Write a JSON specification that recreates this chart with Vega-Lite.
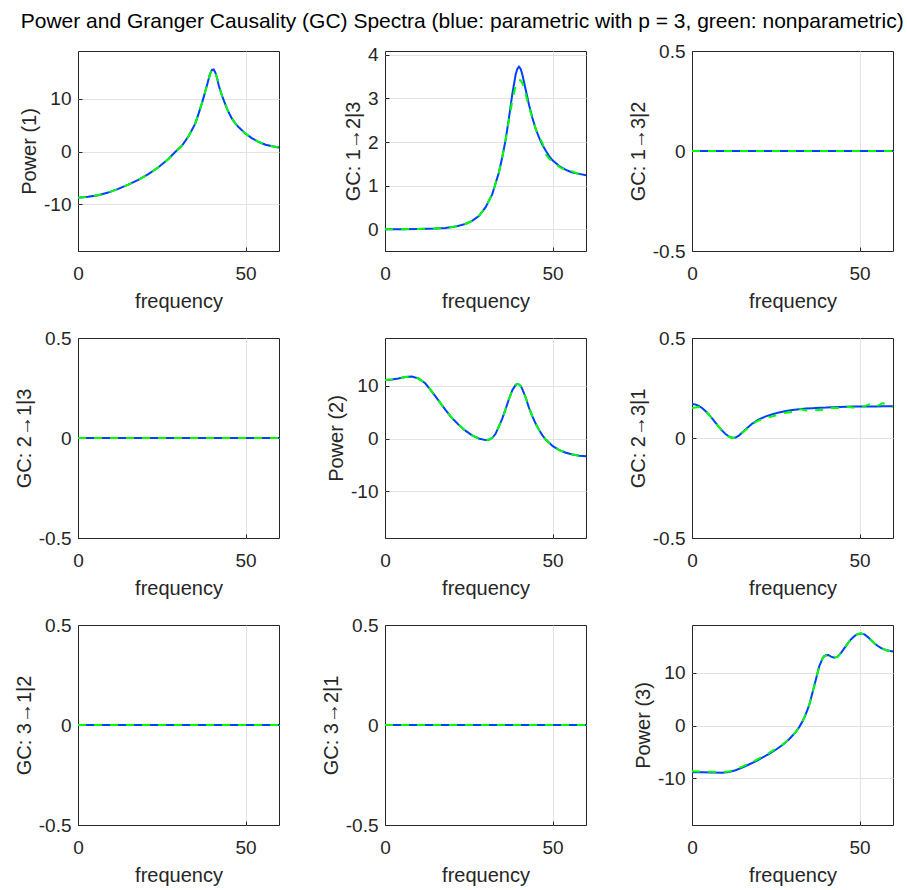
{
  "$schema": "https://vega.github.io/schema/vega-lite/v6.json",
  "padding": {"left": 13, "top": 10, "right": 0, "bottom": 0},
  "bounds": "flush",
  "columns": 3,
  "spacing": {"row": 87, "column": 106},
  "title": {"text": "Power and Granger Causality (GC) Spectra (blue: parametric with p = 3, green: nonparametric)", "font": "Liberation Sans", "fontSize": 21, "fontWeight": "normal", "color": "#000000", "anchor": "start", "dx": 7, "offset": 10},
  "config": {
    "font": "Liberation Sans",
    "view": {"stroke": "#262626", "strokeWidth": 1},
    "axis": {"labelFont": "Liberation Sans", "labelFontSize": 19, "labelColor": "#262626", "titleFont": "Liberation Sans", "titleFontSize": 20, "titleFontWeight": "normal", "titleColor": "#262626", "gridColor": "#e3e3e3", "gridWidth": 1, "ticks": true, "tickSize": -4, "tickColor": "#262626", "tickWidth": 1, "domain": false, "labelPadding": 11, "titlePadding": 4, "labelFlush": false, "labelExpr": "'' + datum.value"},
    "axisX": {"labelPadding": 17, "titlePadding": 8}
  },
  "datasets": {
    "d": [
      {"p": 1, "f": 0, "par": -8.8, "non": -8.8},
      {"p": 1, "f": 3, "par": -8.6, "non": -8.6},
      {"p": 1, "f": 6, "par": -8.3, "non": -8.3},
      {"p": 1, "f": 9, "par": -7.8, "non": -7.8},
      {"p": 1, "f": 12, "par": -7.1, "non": -7.1},
      {"p": 1, "f": 15, "par": -6.3, "non": -6.3},
      {"p": 1, "f": 18, "par": -5.4, "non": -5.4},
      {"p": 1, "f": 21, "par": -4.3, "non": -4.3},
      {"p": 1, "f": 24, "par": -3.0, "non": -3.0},
      {"p": 1, "f": 27, "par": -1.4, "non": -1.4},
      {"p": 1, "f": 29, "par": -0.1, "non": -0.1},
      {"p": 1, "f": 31, "par": 1.1, "non": 1.1},
      {"p": 1, "f": 33, "par": 2.9, "non": 2.9},
      {"p": 1, "f": 35, "par": 5.3, "non": 5.3},
      {"p": 1, "f": 36, "par": 7.2, "non": 7.2},
      {"p": 1, "f": 37, "par": 9.2, "non": 9.2},
      {"p": 1, "f": 38, "par": 11.4, "non": 11.4},
      {"p": 1, "f": 39, "par": 13.8, "non": 13.8},
      {"p": 1, "f": 39.5, "par": 14.9, "non": 14.9},
      {"p": 1, "f": 40, "par": 15.5, "non": 15.5},
      {"p": 1, "f": 40.5, "par": 15.6, "non": 15.6},
      {"p": 1, "f": 41, "par": 15.0, "non": 15.0},
      {"p": 1, "f": 41.5, "par": 14.0, "non": 14.0},
      {"p": 1, "f": 42, "par": 12.6, "non": 12.6},
      {"p": 1, "f": 43, "par": 10.6, "non": 10.6},
      {"p": 1, "f": 44, "par": 8.9, "non": 8.9},
      {"p": 1, "f": 45, "par": 7.4, "non": 7.4},
      {"p": 1, "f": 46, "par": 6.2, "non": 6.2},
      {"p": 1, "f": 47, "par": 5.3, "non": 5.3},
      {"p": 1, "f": 48, "par": 4.6, "non": 4.6},
      {"p": 1, "f": 50, "par": 3.4, "non": 3.4},
      {"p": 1, "f": 52, "par": 2.5, "non": 2.5},
      {"p": 1, "f": 54, "par": 1.8, "non": 1.8},
      {"p": 1, "f": 56, "par": 1.3, "non": 1.3},
      {"p": 1, "f": 58, "par": 1.0, "non": 1.0},
      {"p": 1, "f": 60, "par": 0.75, "non": 0.75},

      {"p": 2, "f": 0, "par": 0, "non": 0},
      {"p": 2, "f": 5, "par": 0, "non": 0},
      {"p": 2, "f": 10, "par": 0.005, "non": 0.005},
      {"p": 2, "f": 15, "par": 0.015, "non": 0.015},
      {"p": 2, "f": 18, "par": 0.03, "non": 0.03},
      {"p": 2, "f": 21, "par": 0.06, "non": 0.06},
      {"p": 2, "f": 24, "par": 0.12, "non": 0.12},
      {"p": 2, "f": 26, "par": 0.19, "non": 0.19},
      {"p": 2, "f": 28, "par": 0.3, "non": 0.3},
      {"p": 2, "f": 30, "par": 0.5, "non": 0.5},
      {"p": 2, "f": 32, "par": 0.8, "non": 0.8},
      {"p": 2, "f": 34, "par": 1.3, "non": 1.3},
      {"p": 2, "f": 35, "par": 1.65, "non": 1.65},
      {"p": 2, "f": 36, "par": 2.05, "non": 2.05},
      {"p": 2, "f": 37, "par": 2.55, "non": 2.5},
      {"p": 2, "f": 38, "par": 3.1, "non": 2.95},
      {"p": 2, "f": 39, "par": 3.55, "non": 3.3},
      {"p": 2, "f": 39.5, "par": 3.68, "non": 3.38},
      {"p": 2, "f": 40, "par": 3.73, "non": 3.42},
      {"p": 2, "f": 40.5, "par": 3.68, "non": 3.42},
      {"p": 2, "f": 41, "par": 3.55, "non": 3.35},
      {"p": 2, "f": 42, "par": 3.2, "non": 3.1},
      {"p": 2, "f": 43, "par": 2.85, "non": 2.8},
      {"p": 2, "f": 44, "par": 2.55, "non": 2.55},
      {"p": 2, "f": 45, "par": 2.3, "non": 2.3},
      {"p": 2, "f": 46, "par": 2.1, "non": 2.12},
      {"p": 2, "f": 47, "par": 1.93, "non": 1.98},
      {"p": 2, "f": 48, "par": 1.8, "non": 1.72},
      {"p": 2, "f": 49, "par": 1.68, "non": 1.62},
      {"p": 2, "f": 50, "par": 1.58, "non": 1.55},
      {"p": 2, "f": 52, "par": 1.45, "non": 1.43},
      {"p": 2, "f": 54, "par": 1.36, "non": 1.35},
      {"p": 2, "f": 55, "par": 1.33, "non": 1.37},
      {"p": 2, "f": 56, "par": 1.3, "non": 1.32},
      {"p": 2, "f": 58, "par": 1.27, "non": 1.26},
      {"p": 2, "f": 60, "par": 1.24, "non": 1.24},

      {"p": 3, "f": 0, "par": 0, "non": 0},
      {"p": 3, "f": 30, "par": 0, "non": 0},
      {"p": 3, "f": 60, "par": 0, "non": 0},
      {"p": 4, "f": 0, "par": 0, "non": 0},
      {"p": 4, "f": 30, "par": 0, "non": 0},
      {"p": 4, "f": 60, "par": 0, "non": 0},

      {"p": 5, "f": 0, "par": 11.1, "non": 11.1},
      {"p": 5, "f": 2, "par": 11.2, "non": 11.2},
      {"p": 5, "f": 4, "par": 11.4, "non": 11.4},
      {"p": 5, "f": 6, "par": 11.7, "non": 11.7},
      {"p": 5, "f": 8, "par": 11.8, "non": 11.8},
      {"p": 5, "f": 10, "par": 11.4, "non": 11.4},
      {"p": 5, "f": 12, "par": 10.5, "non": 10.5},
      {"p": 5, "f": 14, "par": 8.9, "non": 8.9},
      {"p": 5, "f": 16, "par": 7.2, "non": 7.2},
      {"p": 5, "f": 18, "par": 5.5, "non": 5.5},
      {"p": 5, "f": 20, "par": 3.9, "non": 3.9},
      {"p": 5, "f": 22, "par": 2.6, "non": 2.6},
      {"p": 5, "f": 24, "par": 1.5, "non": 1.5},
      {"p": 5, "f": 26, "par": 0.6, "non": 0.6},
      {"p": 5, "f": 28, "par": 0.0, "non": 0.0},
      {"p": 5, "f": 30, "par": -0.3, "non": -0.3},
      {"p": 5, "f": 31, "par": -0.25, "non": -0.25},
      {"p": 5, "f": 32, "par": 0.1, "non": 0.1},
      {"p": 5, "f": 33, "par": 0.9, "non": 0.9},
      {"p": 5, "f": 34, "par": 2.3, "non": 2.3},
      {"p": 5, "f": 35, "par": 3.8, "non": 3.8},
      {"p": 5, "f": 36, "par": 5.6, "non": 5.6},
      {"p": 5, "f": 37, "par": 7.5, "non": 7.5},
      {"p": 5, "f": 38, "par": 9.2, "non": 9.2},
      {"p": 5, "f": 39, "par": 10.2, "non": 10.2},
      {"p": 5, "f": 39.7, "par": 10.4, "non": 10.4},
      {"p": 5, "f": 40.5, "par": 10.0, "non": 10.0},
      {"p": 5, "f": 41, "par": 9.4, "non": 9.4},
      {"p": 5, "f": 42, "par": 7.8, "non": 7.8},
      {"p": 5, "f": 43, "par": 5.8, "non": 5.8},
      {"p": 5, "f": 44, "par": 4.2, "non": 4.2},
      {"p": 5, "f": 45, "par": 2.8, "non": 2.8},
      {"p": 5, "f": 46, "par": 1.6, "non": 1.6},
      {"p": 5, "f": 47, "par": 0.6, "non": 0.6},
      {"p": 5, "f": 48, "par": -0.2, "non": -0.2},
      {"p": 5, "f": 50, "par": -1.4, "non": -1.4},
      {"p": 5, "f": 52, "par": -2.2, "non": -2.2},
      {"p": 5, "f": 54, "par": -2.7, "non": -2.7},
      {"p": 5, "f": 56, "par": -3.05, "non": -3.05},
      {"p": 5, "f": 58, "par": -3.25, "non": -3.25},
      {"p": 5, "f": 60, "par": -3.35, "non": -3.35},

      {"p": 6, "f": 0, "par": 0.17, "non": 0.15},
      {"p": 6, "f": 1, "par": 0.168, "non": 0.152},
      {"p": 6, "f": 2, "par": 0.16, "non": 0.155},
      {"p": 6, "f": 3, "par": 0.15, "non": 0.148},
      {"p": 6, "f": 4, "par": 0.135, "non": 0.135},
      {"p": 6, "f": 5, "par": 0.118, "non": 0.118},
      {"p": 6, "f": 6, "par": 0.098, "non": 0.098},
      {"p": 6, "f": 7, "par": 0.077, "non": 0.077},
      {"p": 6, "f": 8, "par": 0.056, "non": 0.056},
      {"p": 6, "f": 9, "par": 0.037, "non": 0.035},
      {"p": 6, "f": 10, "par": 0.02, "non": 0.018},
      {"p": 6, "f": 11, "par": 0.008, "non": 0.006},
      {"p": 6, "f": 12, "par": 0.001, "non": 0.0},
      {"p": 6, "f": 13, "par": 0.002, "non": 0.002},
      {"p": 6, "f": 14, "par": 0.012, "non": 0.01},
      {"p": 6, "f": 15, "par": 0.027, "non": 0.025},
      {"p": 6, "f": 16, "par": 0.043, "non": 0.04},
      {"p": 6, "f": 17, "par": 0.058, "non": 0.055},
      {"p": 6, "f": 18, "par": 0.072, "non": 0.07},
      {"p": 6, "f": 20, "par": 0.093, "non": 0.088},
      {"p": 6, "f": 22, "par": 0.108, "non": 0.1},
      {"p": 6, "f": 24, "par": 0.119, "non": 0.108},
      {"p": 6, "f": 26, "par": 0.128, "non": 0.118},
      {"p": 6, "f": 28, "par": 0.135, "non": 0.126},
      {"p": 6, "f": 30, "par": 0.14, "non": 0.13},
      {"p": 6, "f": 32, "par": 0.144, "non": 0.145},
      {"p": 6, "f": 34, "par": 0.147, "non": 0.138},
      {"p": 6, "f": 36, "par": 0.149, "non": 0.137},
      {"p": 6, "f": 38, "par": 0.151, "non": 0.14},
      {"p": 6, "f": 40, "par": 0.152, "non": 0.142},
      {"p": 6, "f": 42, "par": 0.154, "non": 0.151},
      {"p": 6, "f": 44, "par": 0.155, "non": 0.15},
      {"p": 6, "f": 46, "par": 0.156, "non": 0.157},
      {"p": 6, "f": 48, "par": 0.157, "non": 0.153},
      {"p": 6, "f": 50, "par": 0.157, "non": 0.149},
      {"p": 6, "f": 52, "par": 0.158, "non": 0.162},
      {"p": 6, "f": 53, "par": 0.158, "non": 0.169},
      {"p": 6, "f": 55, "par": 0.158, "non": 0.158},
      {"p": 6, "f": 57, "par": 0.159, "non": 0.174},
      {"p": 6, "f": 58, "par": 0.159, "non": 0.165},
      {"p": 6, "f": 60, "par": 0.159, "non": 0.155},

      {"p": 7, "f": 0, "par": 0, "non": 0},
      {"p": 7, "f": 30, "par": 0, "non": 0},
      {"p": 7, "f": 60, "par": 0, "non": 0},
      {"p": 8, "f": 0, "par": 0, "non": 0},
      {"p": 8, "f": 30, "par": 0, "non": 0},
      {"p": 8, "f": 60, "par": 0, "non": 0},

      {"p": 9, "f": 0, "par": -8.86, "non": -8.7},
      {"p": 9, "f": 3, "par": -8.88, "non": -8.75},
      {"p": 9, "f": 6, "par": -8.92, "non": -8.8},
      {"p": 9, "f": 9, "par": -8.95, "non": -8.85},
      {"p": 9, "f": 11, "par": -8.85, "non": -8.75},
      {"p": 9, "f": 13, "par": -8.5, "non": -8.35},
      {"p": 9, "f": 15, "par": -8.0, "non": -7.8},
      {"p": 9, "f": 17, "par": -7.4, "non": -7.2},
      {"p": 9, "f": 19, "par": -6.8, "non": -6.6},
      {"p": 9, "f": 21, "par": -6.1, "non": -5.9},
      {"p": 9, "f": 23, "par": -5.4, "non": -5.2},
      {"p": 9, "f": 25, "par": -4.6, "non": -4.4},
      {"p": 9, "f": 27, "par": -3.7, "non": -3.6},
      {"p": 9, "f": 29, "par": -2.6, "non": -2.6},
      {"p": 9, "f": 31, "par": -1.2, "non": -1.2},
      {"p": 9, "f": 32, "par": -0.3, "non": -0.3},
      {"p": 9, "f": 33, "par": 0.8, "non": 0.8},
      {"p": 9, "f": 34, "par": 2.2, "non": 2.2},
      {"p": 9, "f": 35, "par": 3.9, "non": 3.9},
      {"p": 9, "f": 36, "par": 6.3, "non": 6.3},
      {"p": 9, "f": 37, "par": 8.8, "non": 8.8},
      {"p": 9, "f": 38, "par": 11.3, "non": 11.3},
      {"p": 9, "f": 39, "par": 12.8, "non": 12.8},
      {"p": 9, "f": 39.5, "par": 13.2, "non": 13.2},
      {"p": 9, "f": 40, "par": 13.35, "non": 13.35},
      {"p": 9, "f": 40.7, "par": 13.4, "non": 13.4},
      {"p": 9, "f": 41.5, "par": 13.1, "non": 13.1},
      {"p": 9, "f": 42.5, "par": 12.9, "non": 12.9},
      {"p": 9, "f": 43.5, "par": 13.1, "non": 13.1},
      {"p": 9, "f": 44.5, "par": 13.8, "non": 13.8},
      {"p": 9, "f": 45.5, "par": 14.7, "non": 14.7},
      {"p": 9, "f": 46.5, "par": 15.6, "non": 15.6},
      {"p": 9, "f": 47.5, "par": 16.4, "non": 16.4},
      {"p": 9, "f": 48.5, "par": 17.0, "non": 17.0},
      {"p": 9, "f": 49.5, "par": 17.4, "non": 17.4},
      {"p": 9, "f": 50.5, "par": 17.5, "non": 17.5},
      {"p": 9, "f": 51.5, "par": 17.3, "non": 17.3},
      {"p": 9, "f": 52.5, "par": 16.8, "non": 16.8},
      {"p": 9, "f": 53.5, "par": 16.2, "non": 16.2},
      {"p": 9, "f": 54.5, "par": 15.6, "non": 15.6},
      {"p": 9, "f": 55.5, "par": 15.1, "non": 15.1},
      {"p": 9, "f": 56.5, "par": 14.7, "non": 14.7},
      {"p": 9, "f": 58, "par": 14.3, "non": 14.3},
      {"p": 9, "f": 60, "par": 14.05, "non": 14.05}
    ]
  },
  "concat": [
    {"width": 201, "height": 200, "data": {"name": "d"}, "transform": [{"filter": "datum.p == 1"}],
     "encoding": {"x": {"field": "f", "type": "quantitative", "scale": {"domain": [0, 60], "nice": false}, "axis": {"values": [0, 50], "gridOpacity": {"condition": {"test": "datum.value === 0", "value": 0}, "value": 1}}, "title": "frequency"}},
     "layer": [
       {"mark": {"type": "line", "color": "#0040ff", "strokeWidth": 2}, "encoding": {"y": {"field": "par", "type": "quantitative", "scale": {"domain": [-18.9, 19.1], "nice": false, "zero": false}, "axis": {"values": [-10, 0, 10]}, "title": "Power (1)"}}},
       {"mark": {"type": "line", "color": "#00ff00", "strokeWidth": 2, "strokeDash": [8, 8]}, "encoding": {"y": {"field": "non", "type": "quantitative", "title": "Power (1)"}}}
     ]},
    {"width": 201, "height": 200, "data": {"name": "d"}, "transform": [{"filter": "datum.p == 2"}],
     "encoding": {"x": {"field": "f", "type": "quantitative", "scale": {"domain": [0, 60], "nice": false}, "axis": {"values": [0, 50], "gridOpacity": {"condition": {"test": "datum.value === 0", "value": 0}, "value": 1}}, "title": "frequency"}},
     "layer": [
       {"mark": {"type": "line", "color": "#0040ff", "strokeWidth": 2}, "encoding": {"y": {"field": "par", "type": "quantitative", "scale": {"domain": [-0.5, 4.09], "nice": false, "zero": false}, "axis": {"values": [0, 1, 2, 3, 4]}, "title": "GC: 1→2|3"}}},
       {"mark": {"type": "line", "color": "#00ff00", "strokeWidth": 2, "strokeDash": [8, 8]}, "encoding": {"y": {"field": "non", "type": "quantitative", "title": "GC: 1→2|3"}}}
     ]},
    {"width": 201, "height": 200, "data": {"name": "d"}, "transform": [{"filter": "datum.p == 3"}],
     "encoding": {"x": {"field": "f", "type": "quantitative", "scale": {"domain": [0, 60], "nice": false}, "axis": {"values": [0, 50], "gridOpacity": {"condition": {"test": "datum.value === 0", "value": 0}, "value": 1}}, "title": "frequency"}},
     "layer": [
       {"mark": {"type": "line", "color": "#0040ff", "strokeWidth": 2}, "encoding": {"y": {"field": "par", "type": "quantitative", "scale": {"domain": [-0.5, 0.5], "nice": false, "zero": false}, "axis": {"values": [-0.5, 0, 0.5], "gridOpacity": {"condition": {"test": "abs(datum.value) === 0.5", "value": 0}, "value": 1}}, "title": "GC: 1→3|2"}}},
       {"mark": {"type": "line", "color": "#00ff00", "strokeWidth": 2, "strokeDash": [8, 8]}, "encoding": {"y": {"field": "non", "type": "quantitative", "title": "GC: 1→3|2"}}}
     ]},
    {"width": 201, "height": 200, "data": {"name": "d"}, "transform": [{"filter": "datum.p == 4"}],
     "encoding": {"x": {"field": "f", "type": "quantitative", "scale": {"domain": [0, 60], "nice": false}, "axis": {"values": [0, 50], "gridOpacity": {"condition": {"test": "datum.value === 0", "value": 0}, "value": 1}}, "title": "frequency"}},
     "layer": [
       {"mark": {"type": "line", "color": "#0040ff", "strokeWidth": 2}, "encoding": {"y": {"field": "par", "type": "quantitative", "scale": {"domain": [-0.5, 0.5], "nice": false, "zero": false}, "axis": {"values": [-0.5, 0, 0.5], "gridOpacity": {"condition": {"test": "abs(datum.value) === 0.5", "value": 0}, "value": 1}}, "title": "GC: 2→1|3"}}},
       {"mark": {"type": "line", "color": "#00ff00", "strokeWidth": 2, "strokeDash": [8, 8]}, "encoding": {"y": {"field": "non", "type": "quantitative", "title": "GC: 2→1|3"}}}
     ]},
    {"width": 201, "height": 200, "data": {"name": "d"}, "transform": [{"filter": "datum.p == 5"}],
     "encoding": {"x": {"field": "f", "type": "quantitative", "scale": {"domain": [0, 60], "nice": false}, "axis": {"values": [0, 50], "gridOpacity": {"condition": {"test": "datum.value === 0", "value": 0}, "value": 1}}, "title": "frequency"}},
     "layer": [
       {"mark": {"type": "line", "color": "#0040ff", "strokeWidth": 2}, "encoding": {"y": {"field": "par", "type": "quantitative", "scale": {"domain": [-18.9, 19.1], "nice": false, "zero": false}, "axis": {"values": [-10, 0, 10]}, "title": "Power (2)"}}},
       {"mark": {"type": "line", "color": "#00ff00", "strokeWidth": 2, "strokeDash": [8, 8]}, "encoding": {"y": {"field": "non", "type": "quantitative", "title": "Power (2)"}}}
     ]},
    {"width": 201, "height": 200, "data": {"name": "d"}, "transform": [{"filter": "datum.p == 6"}],
     "encoding": {"x": {"field": "f", "type": "quantitative", "scale": {"domain": [0, 60], "nice": false}, "axis": {"values": [0, 50], "gridOpacity": {"condition": {"test": "datum.value === 0", "value": 0}, "value": 1}}, "title": "frequency"}},
     "layer": [
       {"mark": {"type": "line", "color": "#0040ff", "strokeWidth": 2}, "encoding": {"y": {"field": "par", "type": "quantitative", "scale": {"domain": [-0.5, 0.5], "nice": false, "zero": false}, "axis": {"values": [-0.5, 0, 0.5], "gridOpacity": {"condition": {"test": "abs(datum.value) === 0.5", "value": 0}, "value": 1}}, "title": "GC: 2→3|1"}}},
       {"mark": {"type": "line", "color": "#00ff00", "strokeWidth": 2, "strokeDash": [8, 8]}, "encoding": {"y": {"field": "non", "type": "quantitative", "title": "GC: 2→3|1"}}}
     ]},
    {"width": 201, "height": 200, "data": {"name": "d"}, "transform": [{"filter": "datum.p == 7"}],
     "encoding": {"x": {"field": "f", "type": "quantitative", "scale": {"domain": [0, 60], "nice": false}, "axis": {"values": [0, 50], "gridOpacity": {"condition": {"test": "datum.value === 0", "value": 0}, "value": 1}}, "title": "frequency"}},
     "layer": [
       {"mark": {"type": "line", "color": "#0040ff", "strokeWidth": 2}, "encoding": {"y": {"field": "par", "type": "quantitative", "scale": {"domain": [-0.5, 0.5], "nice": false, "zero": false}, "axis": {"values": [-0.5, 0, 0.5], "gridOpacity": {"condition": {"test": "abs(datum.value) === 0.5", "value": 0}, "value": 1}}, "title": "GC: 3→1|2"}}},
       {"mark": {"type": "line", "color": "#00ff00", "strokeWidth": 2, "strokeDash": [8, 8]}, "encoding": {"y": {"field": "non", "type": "quantitative", "title": "GC: 3→1|2"}}}
     ]},
    {"width": 201, "height": 200, "data": {"name": "d"}, "transform": [{"filter": "datum.p == 8"}],
     "encoding": {"x": {"field": "f", "type": "quantitative", "scale": {"domain": [0, 60], "nice": false}, "axis": {"values": [0, 50], "gridOpacity": {"condition": {"test": "datum.value === 0", "value": 0}, "value": 1}}, "title": "frequency"}},
     "layer": [
       {"mark": {"type": "line", "color": "#0040ff", "strokeWidth": 2}, "encoding": {"y": {"field": "par", "type": "quantitative", "scale": {"domain": [-0.5, 0.5], "nice": false, "zero": false}, "axis": {"values": [-0.5, 0, 0.5], "gridOpacity": {"condition": {"test": "abs(datum.value) === 0.5", "value": 0}, "value": 1}}, "title": "GC: 3→2|1"}}},
       {"mark": {"type": "line", "color": "#00ff00", "strokeWidth": 2, "strokeDash": [8, 8]}, "encoding": {"y": {"field": "non", "type": "quantitative", "title": "GC: 3→2|1"}}}
     ]},
    {"width": 201, "height": 200, "data": {"name": "d"}, "transform": [{"filter": "datum.p == 9"}],
     "encoding": {"x": {"field": "f", "type": "quantitative", "scale": {"domain": [0, 60], "nice": false}, "axis": {"values": [0, 50], "gridOpacity": {"condition": {"test": "datum.value === 0", "value": 0}, "value": 1}}, "title": "frequency"}},
     "layer": [
       {"mark": {"type": "line", "color": "#0040ff", "strokeWidth": 2}, "encoding": {"y": {"field": "par", "type": "quantitative", "scale": {"domain": [-18.9, 19.1], "nice": false, "zero": false}, "axis": {"values": [-10, 0, 10]}, "title": "Power (3)"}}},
       {"mark": {"type": "line", "color": "#00ff00", "strokeWidth": 2, "strokeDash": [8, 8]}, "encoding": {"y": {"field": "non", "type": "quantitative", "title": "Power (3)"}}}
     ]}
  ]
}
